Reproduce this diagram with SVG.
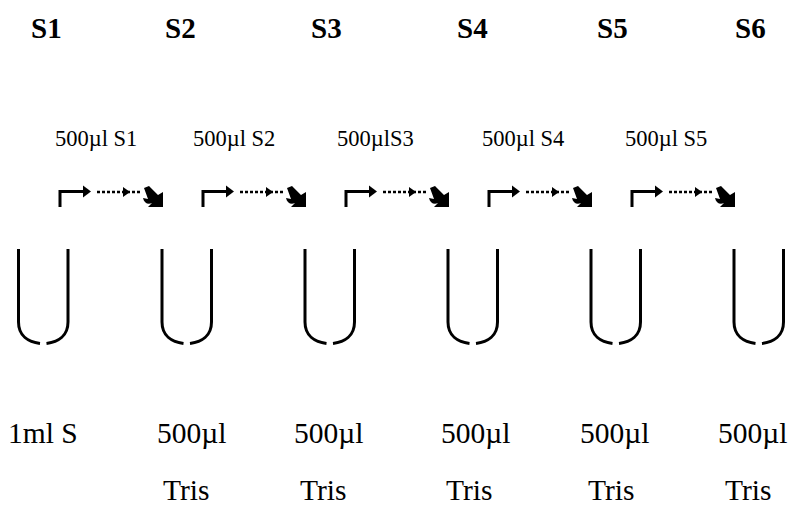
<svg xmlns="http://www.w3.org/2000/svg" width="796" height="508" viewBox="0 0 796 508">
  <defs>
    <style>
      .sample { font-family: "Liberation Serif", "Times New Roman", serif; font-weight: bold; font-size: 29px; fill: #000; }
      .transfer { font-family: "Liberation Serif", "Times New Roman", serif; font-size: 22.5px; fill: #000; }
      .content { font-family: "Liberation Serif", "Times New Roman", serif; font-size: 29.5px; fill: #000; }
      .tube { fill: none; stroke: #000; stroke-width: 3; stroke-linecap: butt; }
      .elbow { fill: none; stroke: #000; stroke-width: 3; }
      .dots { fill: none; stroke: #000; stroke-width: 2.5; stroke-dasharray: 3 2; }
      .head { fill: #000; stroke: none; }
    </style>
    <!-- one transfer arrow: elbow arrow, dotted arrow, bent block arrow -->
    <g id="transfer-arrow">
      <path class="elbow" d="M0,207 V191.5 H24"/>
      <polygon class="head" points="23,185.5 31,191.5 23,197.5"/>
      <path class="dots" d="M37,192 H82"/>
      <polygon class="head" points="63,187 70,192 63,197"/>
      <path class="head" d="M84,188 L89,186 L98,195 L103,192 L103,207 L88,207 L92,203 C88,205 84,203 83,198 L88,199 Z"/>
    </g>
    <!-- one test tube -->
    <g id="tube-shape">
      <path class="tube" d="M0,249 V322 C0,336 10,342 21.5,343.5"/>
      <path class="tube" d="M49.5,249 V322 C49.5,336 39.5,342 28,343.5"/>
    </g>
  </defs>

  <!-- sample names -->
  <g id="labels-samples">
    <text class="sample" x="31" y="38">S1</text>
    <text class="sample" x="165" y="38">S2</text>
    <text class="sample" x="311" y="38">S3</text>
    <text class="sample" x="457" y="38">S4</text>
    <text class="sample" x="597" y="38">S5</text>
    <text class="sample" x="735" y="38">S6</text>
  </g>

  <!-- transfer volumes -->
  <g id="labels-transfer">
    <text class="transfer" x="55" y="146">500µl S1</text>
    <text class="transfer" x="193" y="146">500µl S2</text>
    <text class="transfer" x="337" y="146">500µlS3</text>
    <text class="transfer" x="482" y="146">500µl S4</text>
    <text class="transfer" x="625" y="146">500µl S5</text>
  </g>

  <!-- connectors between tubes -->
  <g id="connectors">
    <use href="#transfer-arrow" x="60"/>
    <use href="#transfer-arrow" x="203"/>
    <use href="#transfer-arrow" x="346"/>
    <use href="#transfer-arrow" x="489"/>
    <use href="#transfer-arrow" x="632"/>
  </g>

  <!-- tubes -->
  <g id="tube-1"><use href="#tube-shape" x="18.5"/></g>
  <g id="tube-2"><use href="#tube-shape" x="162"/></g>
  <g id="tube-3"><use href="#tube-shape" x="305"/></g>
  <g id="tube-4"><use href="#tube-shape" x="448"/></g>
  <g id="tube-5"><use href="#tube-shape" x="591"/></g>
  <g id="tube-6"><use href="#tube-shape" x="734"/></g>

  <!-- tube contents -->
  <g id="labels-content">
    <text class="content" x="8" y="443">1ml S</text>
    <text class="content" x="157" y="443">500µl</text>
    <text class="content" x="294" y="443">500µl</text>
    <text class="content" x="441" y="443">500µl</text>
    <text class="content" x="580" y="443">500µl</text>
    <text class="content" x="718" y="443">500µl</text>
    <text class="content" x="163" y="500">Tris</text>
    <text class="content" x="300" y="500">Tris</text>
    <text class="content" x="446" y="500">Tris</text>
    <text class="content" x="588" y="500">Tris</text>
    <text class="content" x="725" y="500">Tris</text>
  </g>
</svg>
